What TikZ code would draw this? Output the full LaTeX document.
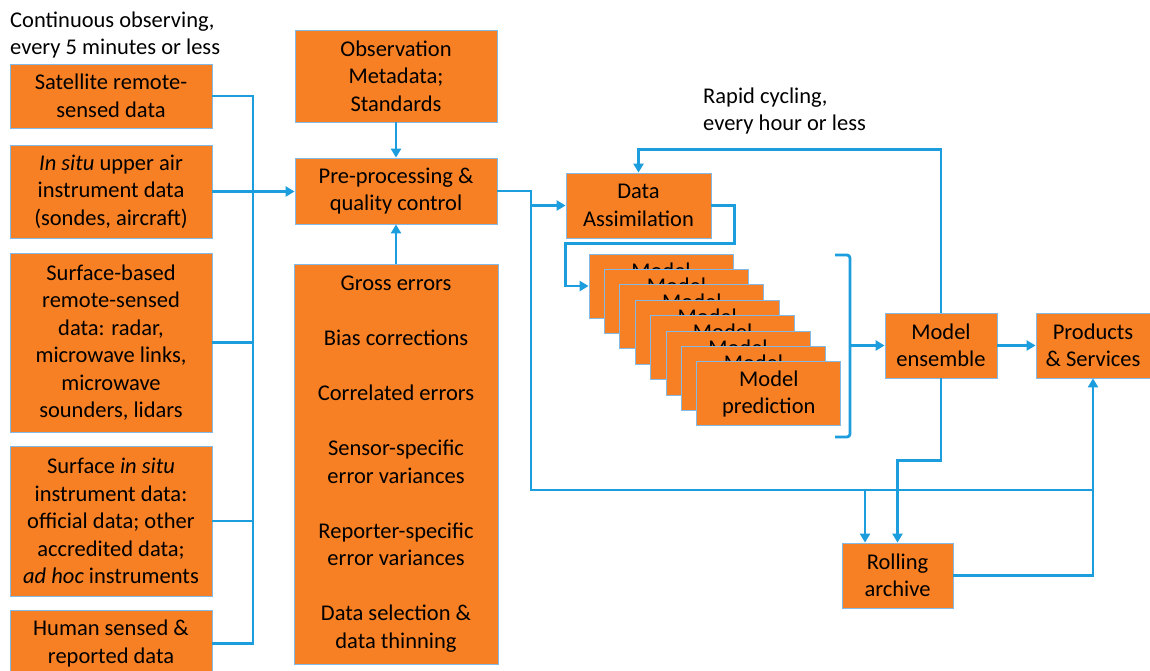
\documentclass[tikz,border=0pt]{standalone}
\usepackage{fontspec}
\setmainfont{Carlito}
\usetikzlibrary{arrows.meta}
\definecolor{boxfill}{RGB}{248,128,36}
\definecolor{flowblue}{RGB}{27,157,222}
\definecolor{boxedge}{RGB}{130,185,230}
\tikzset{
  box/.style={draw=boxedge,line width=0.8pt,fill=boxfill,align=center,inner sep=2pt,font=\fontsize{22.5}{27.5}\selectfont},
  leftbox/.style={box,minimum width=202pt},
  model/.style={box,minimum width=144pt,minimum height=64pt},
  flow/.style={draw=flowblue,line width=2.8pt},
  arr/.style={flow,-{Triangle[length=9pt,width=10pt]}},
  note/.style={align=left,inner sep=0pt,font=\fontsize{22.5}{27}\selectfont}
}
\begin{document}
\begin{tikzpicture}[x=1pt,y=-1pt]
\useasboundingbox (0,0) rectangle (1150,670);
\node(obsnote) at (10,35)[note,anchor=west] {Continuous observing,\\every 5 minutes or less};
\node(sat) at (111,96)[leftbox,minimum height=64pt] {Satellite remote-\\sensed data};
\node(insitu) at (111,191.5)[leftbox,minimum height=93pt] {\textit{In situ} upper air\\instrument data\\(sondes, aircraft)};
\node(sfcremote) at (111,342.5)[leftbox,minimum height=179pt] {Surface-based\\remote-sensed\\data: radar,\\microwave links,\\microwave\\sounders, lidars};
\node(sfcinsitu) at (111,521)[leftbox,minimum height=150pt] {Surface \textit{in situ}\\instrument data:\\official data; other\\accredited data;\\\textit{ad hoc} instruments};
\node(human) at (111,643.5)[leftbox,minimum height=66pt] {Human sensed \&\\reported data};

\node(meta) at (396,76)[box,minimum width=202pt,minimum height=92pt] {Observation\\Metadata;\\Standards};
\node(pre) at (396,191)[box,minimum width=202pt,minimum height=66pt] {Pre-processing \&\\quality control};
\node(err) at (396,464)[box,minimum width=204pt,minimum height=400pt] {Gross errors\\[27.5pt]Bias corrections\\[27.5pt]Correlated errors\\[27.5pt]Sensor-specific\\error variances\\[27.5pt]Reporter-specific\\error variances\\[27.5pt]Data selection \&\\data thinning};

\node(rapidnote) at (703,111)[note,anchor=west] {Rapid cycling,\\every hour or less};
\node(da) at (638.5,205.5)[box,minimum width=145pt,minimum height=65pt] {Data\\Assimilation};
\foreach \i in {0,...,7}
  \node(m\i) at ({661+15.4*\i},{286+15.4*\i})[model] {Model\\prediction};
\node(ens) at (941,345.5)[box,minimum width=112pt,minimum height=65pt] {Model\\ensemble};
\node(prod) at (1093,345.5)[box,minimum width=114pt,minimum height=65pt] {Products\\\& Services};
\node(arch) at (897.5,575.5)[box,minimum width=111pt,minimum height=65pt] {Rolling\\archive};

\coordinate(bus) at (253,96);
\coordinate(split) at (531,192);
\coordinate(low) at (531,490);
\coordinate(tap) at (865,490);
\coordinate(brk) at (850,345.5);

\draw[flow] (sat.east) -- (sat.east -| bus) -- (human.east -| bus) -- (human.east);
\draw[flow] (sfcremote.east) -- (sfcremote.east -| bus);
\draw[flow] (sfcinsitu.east) -- (sfcinsitu.east -| bus);
\draw[arr] (insitu.east) -- (insitu.east -| pre.west);
\draw[arr] (meta.south) -- (pre.north);
\draw[arr] (err.north) -- (pre.south);
\draw[flow] (pre.east) -- (pre.east -| split) -- (low) -- (low -| prod.south);
\draw[arr] (split |- da.west) -- (da.west);
\draw[arr] (da.east) -- ++(23,0) |- ([yshift=-5pt]da.south west) |- (m0.west);
\draw[flow,rounded corners=3pt] (835,255) -- (850,255) -- (850,437) -- (835,437);
\draw[arr] (brk) -- (ens.west);
\draw[arr] (ens.east) -- (prod.west);
\draw[arr] (ens.north) -- ++(0,-163) -| (da.north);
\draw[arr] (ens.south) -- ++(0,82) -| (arch.north);
\draw[arr] (tap) -- (tap |- arch.north);
\draw[arr] (arch.east) -| (prod.south);
\end{tikzpicture}
\end{document}
